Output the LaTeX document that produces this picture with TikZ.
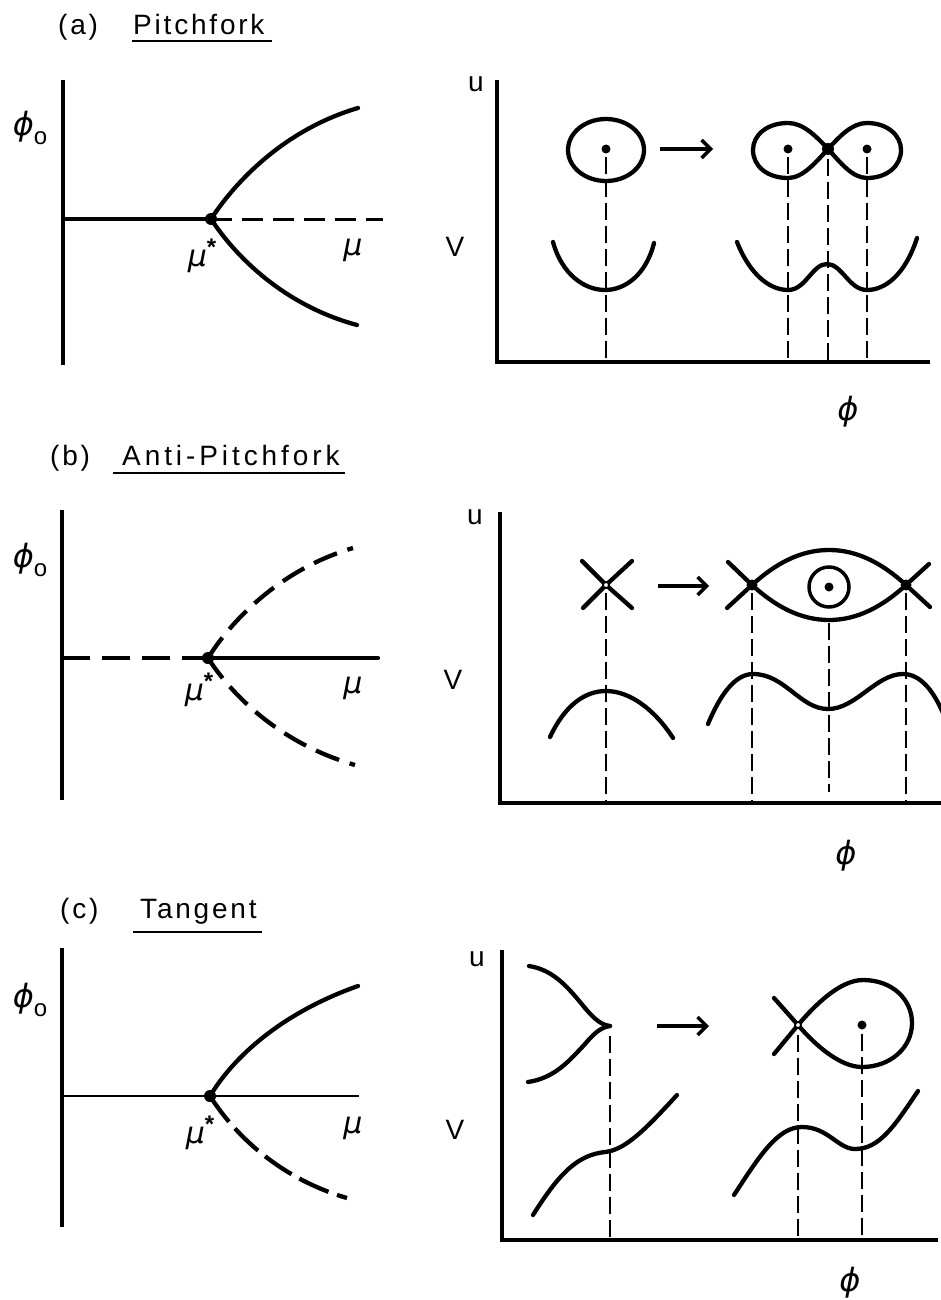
\documentclass[tikz,border=0pt]{standalone}
\usepackage{fontspec}
\usepackage{graphicx}
\setmainfont{Liberation Sans}[LetterSpace=10]
\newfontfamily\widefont{Liberation Sans}[LetterSpace=14]
\newfontfamily\greekfont{DejaVu Sans}
\usetikzlibrary{arrows.meta}
\newcommand{\gphi}{{\greekfont\itshape\fontsize{32}{34}\selectfont ϕ}}
\newcommand{\gmu}{{\greekfont\itshape\fontsize{30}{32}\selectfont μ}}
\newcommand{\phinought}{\gphi\raisebox{-9pt}{\fontsize{24}{24}\selectfont o}}
\newcommand{\mustar}{\gmu\raisebox{11pt}{\fontsize{24}{24}\selectfont\bfseries *}}
\begin{document}
\begin{tikzpicture}[x=1pt,y=-1pt,
  axis/.style={line width=3.6pt},
  curve/.style={line width=4.3pt, line cap=round},
  thinline/.style={line width=2.4pt},
  guide/.style={line width=2.4pt, dash pattern=on 17pt off 6pt},
  hdash/.style={line width=3pt, dash pattern=on 21pt off 10pt},
  longdash/.style={line width=4.3pt, dash pattern=on 25pt off 11pt},
  dotnode/.style={circle, fill=black, inner sep=0pt, minimum size=9pt},
  bigdot/.style={circle, fill=black, inner sep=0pt, minimum size=12pt},
  opendot/.style={circle, draw=black, fill=white, line width=1.8pt, inner sep=0pt, minimum size=6pt},
  title/.style={font=\fontsize{28}{30}\selectfont, anchor=base west, inner sep=0pt},
  lab/.style={font=\fontsize{28}{30}\selectfont, inner sep=0pt},
  flowarrow/.style={line width=4pt, -{Straight Barb[length=9pt,width=18pt,line width=3.5pt]}}
]
\useasboundingbox (0,0) rectangle (941,1300);

% ================= (a) Pitchfork =================
\node[title] (ta) at (58,35) {(a)};
\node[title] (tna) at (133,35) {Pitchfork};
\draw[line width=2.6pt] (132,41) coordinate (ula) -- (272,41) coordinate (ulb);

\coordinate (aTop) at (63,80);
\coordinate (aBot) at (63,365);
\draw[axis] (aTop) -- (aBot);
\node[lab] (phia) at (30,128) {\phinought};
\node[bigdot] (pa) at (211,219) {};
\coordinate (aEnd) at (383,219);
\coordinate (aUp) at (358,108);
\coordinate (aLo) at (357,325);
\draw[curve] (aBot |- pa) -- (pa.center);
\draw[hdash] (pa.center) -- (aEnd);
\draw[curve] (pa.center) .. controls (240,175) and (290,128) .. (aUp);
\draw[curve] (pa.center) .. controls (240,263) and (290,307) .. (aLo);
\node[lab] (musa) at (202,256) {\mustar};
\node[lab] (mua) at (353,250) {\gmu};

% right
\coordinate (raTop) at (497,80);
\coordinate (raO) at (497,362);
\coordinate (raR) at (930,362);
\draw[axis] (raTop) -- (raO) -- (raR);
\node[lab] (ua) at (476,84) {u};
\node[lab] (va) at (455,247) {V};
\node[lab] (phxa) at (848,412) {\gphi};

\draw[curve] (606,150) ellipse [x radius=38, y radius=31];
\node[dotnode] (a1) at (606,149) {};
\draw[flowarrow] (660,149) coordinate (arA1) -- (713,149) coordinate (arA2);
\node[bigdot] (a3) at (828,149) {};
\draw[curve] (a3.center) .. controls (840,136) and (852,123) .. (867,123)
  .. controls (887,123) and (901,135) .. (901,150)
  .. controls (901,166) and (887,178) .. (867,178)
  .. controls (852,178) and (840,162) .. (a3.center)
  .. controls (816,136) and (803,123) .. (788,123)
  .. controls (767,123) and (753,135) .. (753,150)
  .. controls (753,166) and (767,178) .. (788,178)
  .. controls (803,178) and (816,162) .. (a3.center);
\node[dotnode] (a2) at (788,149) {};
\node[dotnode] (a4) at (867,149) {};
% potentials
\draw[curve] (553,242) .. controls (562,275) and (585,290) .. (605,290)
  .. controls (625,290) and (646,275) .. (654,243);
\draw[curve] (737,242) .. controls (750,275) and (770,290) .. (788,290)
  .. controls (806,290) and (812,264) .. (827,264)
  .. controls (842,264) and (849,290) .. (867,290)
  .. controls (885,290) and (905,275) .. (917,238);
\foreach \n in {a1,a2,a4} \draw[guide] ([yshift=-8pt]\n.center) -- (\n |- raO);
\draw[guide] ([yshift=-10pt]a3.center) -- (a3 |- raO);

% ================= (b) Anti-Pitchfork =================
\node[title] (tb) at (50,465) {(b)};
\node[title, font=\widefont\fontsize{28}{30}\selectfont] (tnb) at (122,465) {Anti-Pitchfork};
\draw[line width=2.6pt] (113,473) coordinate (ulc) -- (345,473) coordinate (uld);

\coordinate (bTop) at (62,510);
\coordinate (bBot) at (62,800);
\draw[axis] (bTop) -- (bBot);
\node[lab] (phib) at (30,560) {\phinought};
\node[bigdot] (pb) at (208,658) {};
\coordinate (bEnd) at (378,658);
\coordinate (bUp) at (353,548);
\coordinate (bLo) at (355,765);
\draw[line width=4.3pt, dash pattern=on 28pt off 12pt] (bBot |- pb) -- (pb.center);
\draw[curve] (pb.center) -- (bEnd);
\draw[longdash] (pb.center) .. controls (235,615) and (285,568) .. (bUp);
\draw[longdash] (pb.center) .. controls (235,700) and (285,745) .. (bLo);
\node[lab] (musb) at (199,690) {\mustar};
\node[lab] (mub) at (353,688) {\gmu};

% right
\coordinate (rbTop) at (500,512);
\coordinate (rbO) at (500,803);
\coordinate (rbR) at (941,803);
\draw[axis] (rbTop) -- (rbO) -- (rbR);
\node[lab] (ub) at (475,517) {u};
\node[lab] (vb) at (453,680) {V};
\node[lab] (phxb) at (846,856) {\gphi};

\coordinate (b1) at (606,585);
\draw[curve] (582,561) -- (b1) -- (632,608);
\draw[curve] (632,561) -- (b1) -- (583,608);
\node[opendot] (b1n) at (b1) {};
\draw[flowarrow] (658,586) coordinate (arB1) -- (709,586) coordinate (arB2);
\coordinate (b2) at (752,585);
\coordinate (b4) at (906,585);
\draw[curve] (727,608) -- (b2) .. controls (775,564) and (800,550) .. (829,550)
  .. controls (858,550) and (883,564) .. (b4) -- (930,607);
\draw[curve] (728,562) -- (b2) .. controls (775,606) and (800,620) .. (829,620)
  .. controls (858,620) and (883,606) .. (b4) -- (929,564);
\node[bigdot, minimum size=11pt] (b2n) at (b2) {};
\node[bigdot, minimum size=11pt] (b4n) at (b4) {};
\draw[line width=3.5pt] (829,587) circle [radius=20];
\node[dotnode] (b3) at (829,587) {};
\coordinate (b3low) at (829,623);
\draw[curve] (550,737) .. controls (565,705) and (585,691) .. (606,691)
  .. controls (630,691) and (655,710) .. (673,738);
\draw[curve] (708,724) .. controls (720,695) and (735,674) .. (753,674)
  .. controls (785,674) and (800,709) .. (828,709)
  .. controls (856,709) and (876,674) .. (903,674)
  .. controls (920,674) and (933,690) .. (943,713);
\draw[guide] ([yshift=-8pt]b1n.center) -- (b1n |- rbO);
\draw[guide] ([yshift=-8pt]b2n.center) -- (b2n |- rbO);
\draw[guide] ([yshift=-8pt]b4n.center) -- (b4n |- rbO);
\draw[guide] (b3low) -- (829,792);

% ================= (c) Tangent =================
\node[title] (tc) at (60,918) {(c)};
\node[title] (tnc) at (140,918) {Tangent};
\draw[line width=2.6pt] (133,932) coordinate (ule) -- (262,932) coordinate (ulf);

\coordinate (cTop) at (62,948);
\coordinate (cBot) at (62,1227);
\draw[axis] (cTop) -- (cBot);
\node[lab] (phic) at (30,1000) {\phinought};
\node[bigdot] (pc) at (210,1096) {};
\coordinate (cEnd) at (359,1096);
\coordinate (cUp) at (358,986);
\coordinate (cLo) at (347,1198);
\draw[thinline] (cBot |- pc) -- (cEnd);
\draw[curve] (pc.center) .. controls (238,1050) and (290,1010) .. (cUp);
\draw[line width=4.3pt, dash pattern=on 32pt off 9pt] (pc.center) .. controls (238,1140) and (285,1180) .. (cLo);
\node[lab] (musc) at (200,1133) {\mustar};
\node[lab] (muc) at (353,1128) {\gmu};

% right
\coordinate (rcTop) at (502,950);
\coordinate (rcO) at (502,1240);
\coordinate (rcR) at (938,1240);
\draw[axis] (rcTop) -- (rcO) -- (rcR);
\node[lab] (uc) at (477,959) {u};
\node[lab] (vc) at (455,1130) {V};
\node[lab] (phxc) at (850,1283) {\gphi};

\coordinate (c1) at (610,1026);
\draw[curve] (529,966) .. controls (555,970) and (570,990) .. (585,1008)
  .. controls (595,1020) and (602,1025) .. (c1);
\draw[curve] (528,1082) .. controls (555,1078) and (570,1060) .. (585,1044)
  .. controls (595,1032) and (602,1027) .. (c1);
\draw[flowarrow] (657,1026) coordinate (arC1) -- (709,1026) coordinate (arC2);
\coordinate (c2) at (798,1025);
\draw[curve] (774,1054) -- (c2) .. controls (815,1005) and (840,980) .. (863,980)
  .. controls (893,980) and (912,1000) .. (912,1023)
  .. controls (912,1048) and (890,1067) .. (862,1067)
  .. controls (840,1067) and (815,1045) .. (c2) -- (774,998);
\node[opendot] (c2n) at (c2) {};
\node[dotnode] (c3) at (862,1025) {};
\draw[curve] (533,1215) .. controls (560,1172) and (578,1155) .. (605,1152)
  .. controls (625,1150) and (645,1130) .. (677,1095);
\draw[curve] (734,1195) .. controls (760,1155) and (778,1127) .. (802,1127)
  .. controls (828,1127) and (838,1149) .. (855,1149)
  .. controls (880,1149) and (895,1125) .. (918,1091);
\draw[guide] ([yshift=-10pt]c1) -- (c1 |- rcO);
\draw[guide] ([yshift=-10pt]c2n.center) -- (c2n |- rcO);
\draw[guide] ([yshift=-9pt]c3.center) -- (c3 |- rcO);
\end{tikzpicture}
\end{document}
